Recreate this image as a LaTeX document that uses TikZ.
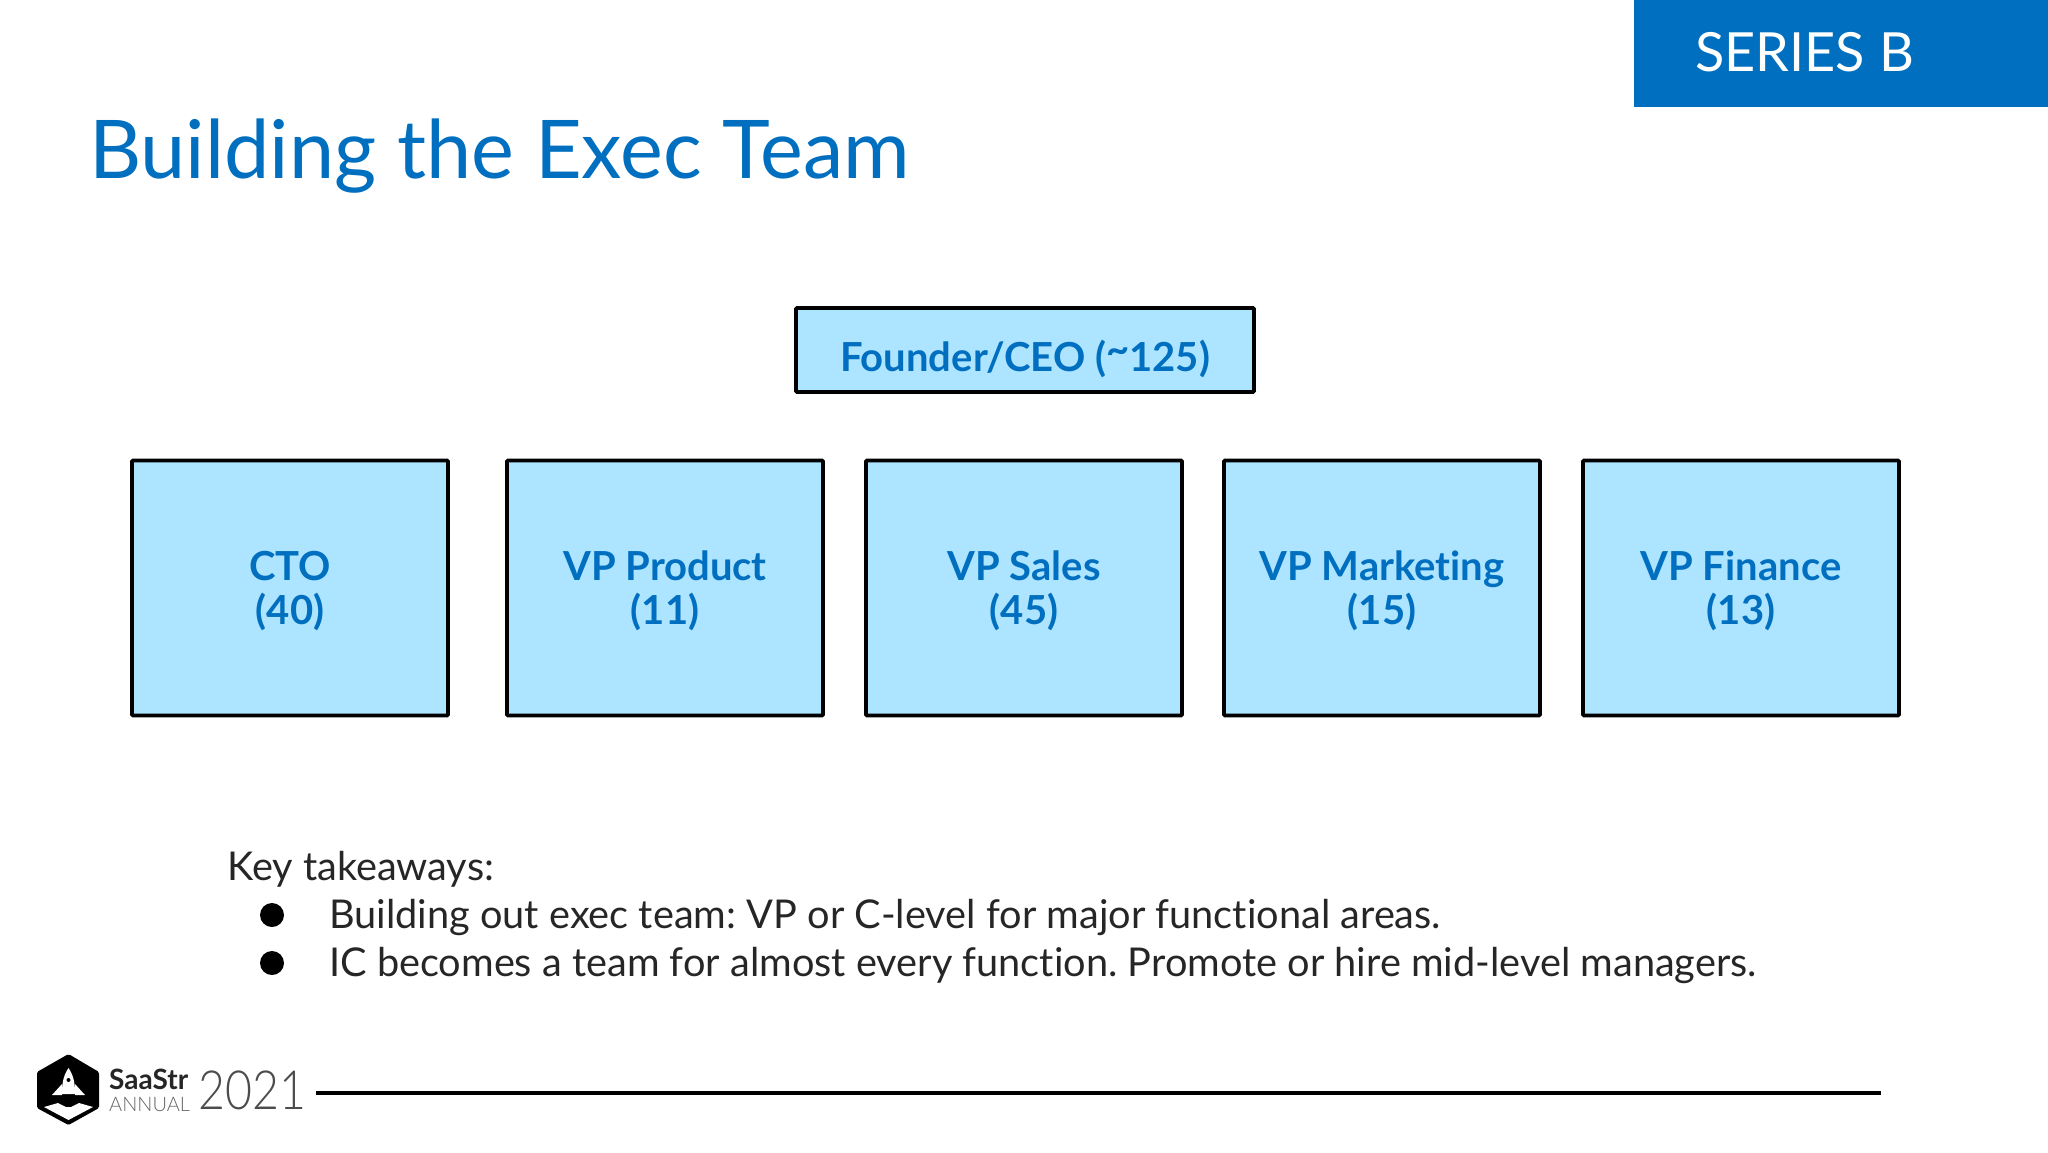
\documentclass[tikz,border=0pt]{standalone}
\usepackage{fontspec}
\setmainfont{Lato}[Ligatures=NoCommon]
\newfontfamily\thinfont{Lato Light}
\usetikzlibrary{positioning}
\definecolor{brandblue}{HTML}{006FBF}
\definecolor{boxfill}{HTML}{ADE4FF}
\newcommand{\lowered}[2][3pt]{\raisebox{-#1}[\height][\depth]{#2}}
\frenchspacing
\tikzset{
    orgbox/.style={draw=black,line width=3.6pt,fill=boxfill,text=brandblue,align=center,rounded corners=1pt,font=\fontsize{40}{44}\selectfont\bfseries},
    bigbox/.style={orgbox,minimum width=316pt,minimum height=255pt},
    listline/.style={anchor=west,text=black!85,font=\fontsize{39.7}{44}\selectfont,inner sep=0pt},
    logotext/.style={anchor=west,inner sep=0pt}
}
\begin{document}
\begin{tikzpicture}[x=1pt,y=-1pt]
    \useasboundingbox (0,0) rectangle (2048,1152);
    \fill[brandblue] (1634,0) rectangle (2048,107);
    \node[anchor=west,text=white,inner sep=0pt,font=\fontsize{54}{60}\selectfont] (series) at (1695,52) {SERIES B};
    \node[anchor=west,text=brandblue,inner sep=0pt,font=\fontsize{81}{90}\selectfont] (title) at (89,156) {Building the Exec Team};
    \node[orgbox,minimum width=458pt,minimum height=84pt] (ceo) at (1025,350) {\lowered[9pt]{Founder/CEO (\raisebox{.2em}{\textasciitilde}125)}};
    \node[bigbox] (cto) at (290,588) {\lowered{CTO}\\\lowered{(40)}};
    \node[bigbox] (product) at (665,588) {\lowered{VP Product}\\\lowered{(11)}};
    \node[bigbox] (sales) at (1024,588) {\lowered{VP Sales}\\\lowered{(45)}};
    \node[bigbox] (marketing) at (1382,588) {\lowered{VP Marketing}\\\lowered{(15)}};
    \node[bigbox] (finance) at (1741,588) {\lowered{VP Finance}\\\lowered{(13)}};
    \node[listline] (key) at (227,869) {Key takeaways:};
    \node[listline] (first) at (329,917) {Building out exec team: VP or C-level for major functional areas.};
    \node[listline] (second) at (329,965) {IC becomes a team for almost every function. Promote or hire mid-level managers.};
    \fill[black] (272,915) circle (12);
    \fill[black] (272,963) circle (12);
    \draw[black,line width=3.5pt] (316,1093) -- (1881,1093);
    % logo
    \fill[black,rounded corners=1.5pt] (68.5,1054) -- (99,1072) -- (99,1108) -- (68.5,1125) -- (37,1108) -- (37,1072) -- cycle;
    \fill[white] (68.5,1068) .. controls (63,1076) and (62,1084) .. (62,1094) -- (75,1094) .. controls (75,1084) and (74,1076) .. (68.5,1068) -- cycle;
    \fill[white] (62,1084) -- (52,1095) -- (62,1095) -- cycle;
    \fill[white] (75,1084) -- (85,1095) -- (75,1095) -- cycle;
    \fill[black] (68.5,1080) circle (2);
    \fill[white] (44,1107) -- (58,1103) -- (66,1107) -- (71,1107) -- (79,1103) -- (93,1107) -- (68.5,1120) -- cycle;
    \node[logotext,font=\fontsize{28}{28}\selectfont\bfseries,text=black!85] (saastr) at (109,1079) {SaaStr};
    \node[logotext,font=\thinfont\fontsize{20}{20}\selectfont,text=black!60] (annual) at (109,1104) {ANNUAL};
    \node[logotext,font=\thinfont\fontsize{54}{54}\selectfont,text=black!70] (year) at (198,1090) {\scalebox{.86}[1]{2021}};
\end{tikzpicture}
\end{document}
